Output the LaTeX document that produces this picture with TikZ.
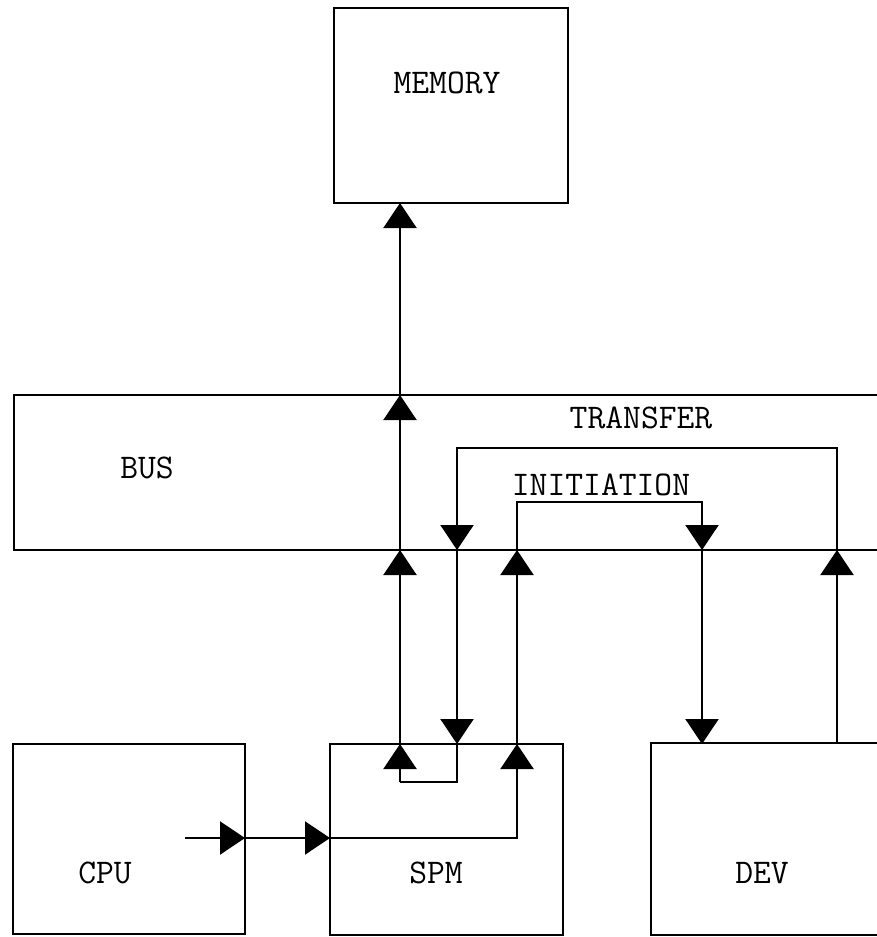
\documentclass[tikz,border=0pt]{standalone}
\usepackage{fontspec}
\usetikzlibrary{arrows.meta}

\tikzset{
    caixa/.style={draw, rectangle, line width=1.1pt, inner sep=0pt},
    rotulo/.style={font=\ttfamily\fontsize{17.3}{20}\selectfont},
    linha/.style={line width=1.1pt},
    seta/.style={line width=1.1pt, -{Triangle[length=12.5pt,width=16.5pt]}},
}

\begin{document}
\begin{tikzpicture}[x=0.5pt, y=-0.5pt]
    \clip (0,0) rectangle (877,937);

    % Blocos
    \node[caixa, minimum width=117pt, minimum height=97.5pt] (mem) at (451,105.5) {};
    \node[caixa, minimum width=448pt, minimum height=77.5pt] (bus) at (462,472.5) {};
    \node[caixa, minimum width=116pt, minimum height=95pt] (cpu) at (129,839) {};
    \node[caixa, minimum width=116.5pt, minimum height=95.5pt] (spm) at (446.5,839.5) {};
    \node[caixa, minimum width=120pt, minimum height=96pt] (dev) at (771,839) {};

    % Textos
    \node[rotulo] (memtxt) at (447,83) {MEMORY};
    \node[rotulo] (bustxt) at (147,468) {BUS};
    \node[rotulo] (transf) at (641,418) {TRANSFER};
    \node[rotulo] (inic) at (601,485) {INITIATION};
    \node[rotulo] (cputxt) at (105,873) {CPU};
    \node[rotulo] (spmtxt) at (436,873) {SPM};
    \node[rotulo] (devtxt) at (762,873) {DEV};

    % Pontos de passagem
    \coordinate (a) at (400,782);
    \coordinate (b) at (457,782);
    \coordinate (t) at (457,448);
    \coordinate (i) at (517,502);
    \coordinate (c) at (185,838);

    % Ligacoes
    \draw[linha] (a) -- (a |- mem.south);
    \draw[linha] (a) -- (b) -- (t) -| (dev.north -| 837,0);
    \draw[linha] (c) -| (i) -| (dev.north -| 702,0);

    % Setas para cima
    \foreach \x/\y in {400/203, 400/395, 400/550, 400/744, 517/550, 517/744, 837/550} {
        \draw[seta] (\x,\y+25) -- (\x,\y);
    }
    % Setas para baixo
    \foreach \x/\y in {457/550, 457/744, 702/550, 702/744} {
        \draw[seta] (\x,\y-25) -- (\x,\y);
    }
    % Setas para a direita
    \foreach \x in {245, 330} {
        \draw[seta] (\x-25,838) -- (\x,838);
    }
\end{tikzpicture}
\end{document}
